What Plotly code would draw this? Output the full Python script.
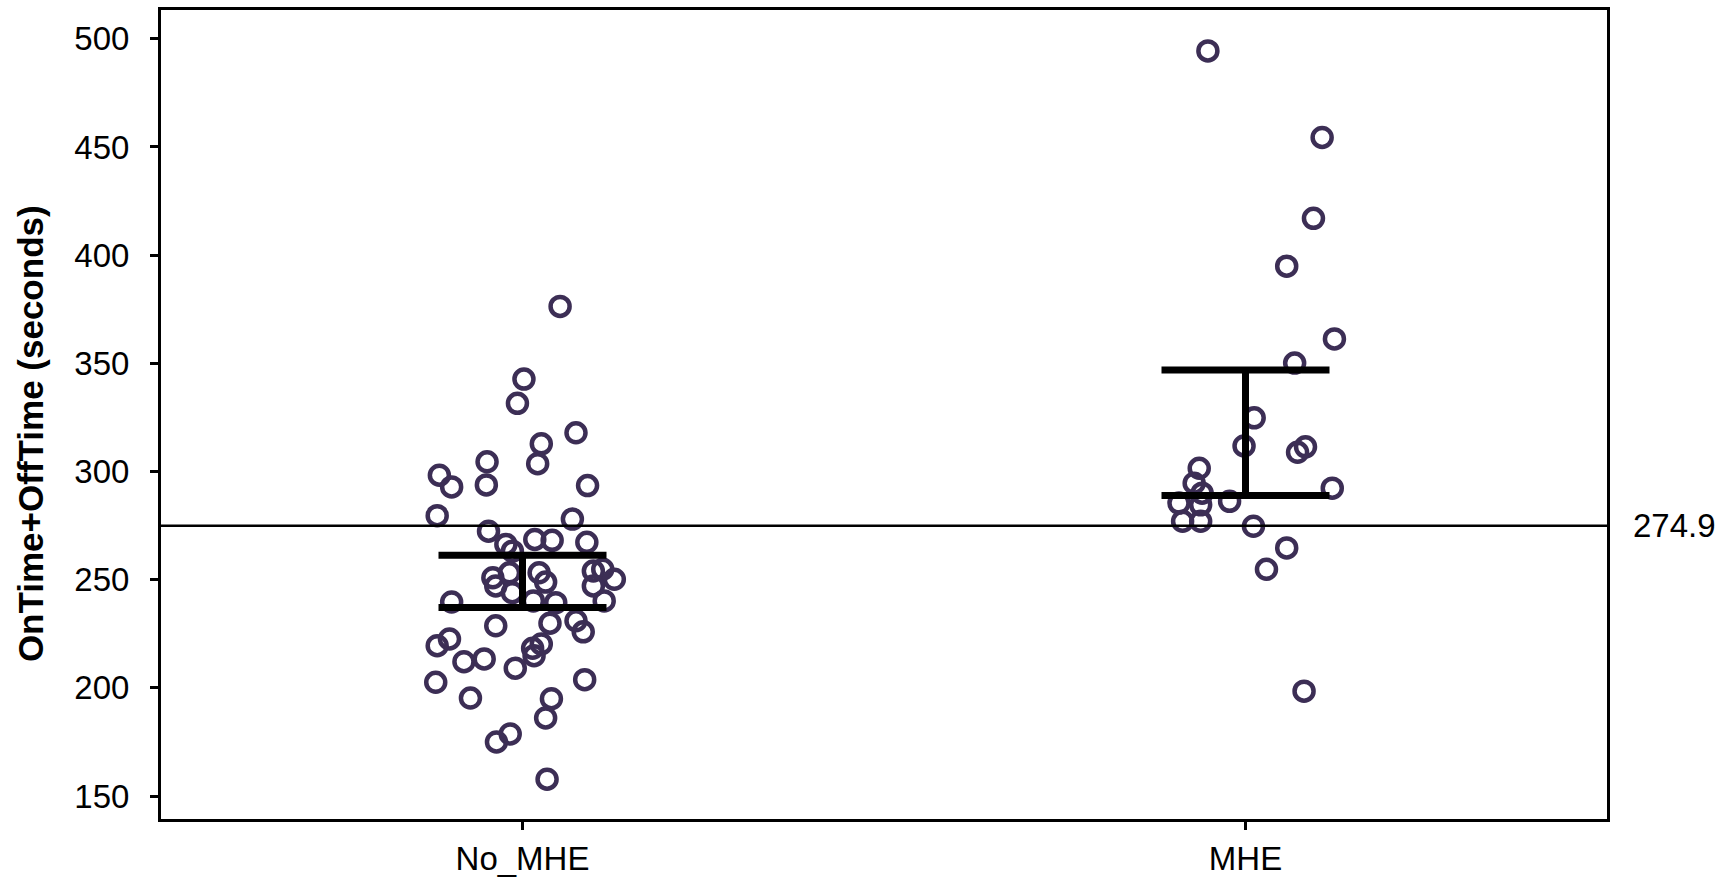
import plotly.graph_objects as go

# ---------------- data ----------------
categories = ["No_MHE", "MHE"]

# No_MHE group: horizontal jitter (category units) and values (seconds)
no_mhe_jitter = [0.052, 0.002, -0.007, 0.074, 0.026, 0.021, -0.049, -0.115, -0.098, -0.050,
                 0.090, -0.118, 0.069, -0.047, -0.023, 0.017, 0.041, 0.089, -0.014, -0.041,
                 -0.037, -0.018, -0.014, 0.023, 0.032, 0.098, 0.111, 0.127, 0.098, 0.113,
                 0.015, 0.046, -0.098, -0.037, 0.038, 0.074, 0.084, -0.101, -0.118, 0.026,
                 0.014, 0.016, -0.081, -0.053, -0.010, -0.120, 0.086, -0.072, 0.040, 0.032,
                 -0.017, -0.036, 0.034]
no_mhe_values = [376.3, 342.7, 331.5, 317.9, 312.8, 303.6, 304.5, 298.3, 292.9, 293.8,
                 293.5, 279.6, 278.0, 272.4, 266.3, 268.6, 268.2, 267.3, 263.2, 250.9,
                 247.1, 253.2, 244.0, 253.2, 248.9, 254.0, 254.8, 250.2, 247.1, 240.2,
                 240.2, 239.4, 239.7, 228.7, 229.9, 231.0, 225.9, 222.6, 219.5, 220.3,
                 218.3, 214.9, 212.1, 213.4, 209.1, 202.6, 203.8, 195.3, 195.0, 186.1,
                 178.7, 175.0, 157.8]

# MHE group
mhe_jitter = [-0.052, 0.106, 0.094, 0.057, 0.123, 0.068, 0.012, -0.002, 0.083, 0.072,
              -0.064, -0.071, -0.060, 0.120, -0.022, -0.092, -0.062, -0.087, -0.062, 0.011,
              0.057, 0.029, 0.081]
mhe_values = [494.4, 454.4, 417.0, 394.9, 361.3, 350.1, 324.8, 311.8, 311.4, 308.9,
              301.5, 294.6, 290.0, 292.3, 286.2, 285.4, 284.6, 277.0, 277.0, 274.7,
              264.7, 254.8, 198.5]

# confidence interval bars per group
ci_low = [237.1, 288.9]
ci_high = [261.3, 346.9]

grand_mean = 274.9
grand_mean_label = "274.9"

y_ticks = [150, 200, 250, 300, 350, 400, 450, 500]

# ---------------- figure ----------------
FONT = "Liberation Sans, Arial, Helvetica, sans-serif"
POINT_COLOR = "#3c2e55"

fig = go.Figure()

fig.add_trace(go.Scatter(
    x=[0 + j for j in no_mhe_jitter], y=no_mhe_values,
    mode="markers",
    marker=dict(symbol="circle-open", size=19, color=POINT_COLOR,
                line=dict(width=4.5, color=POINT_COLOR)),
    showlegend=False, hoverinfo="y",
))
fig.add_trace(go.Scatter(
    x=[1 + j for j in mhe_jitter], y=mhe_values,
    mode="markers",
    marker=dict(symbol="circle-open", size=19, color=POINT_COLOR,
                line=dict(width=4.5, color=POINT_COLOR)),
    showlegend=False, hoverinfo="y",
))

centers = [(lo + hi) / 2 for lo, hi in zip(ci_low, ci_high)]
fig.add_trace(go.Scatter(
    x=list(range(len(categories))), y=centers,
    mode="markers",
    marker=dict(size=1, color="rgba(0,0,0,0)"),
    error_y=dict(type="data", symmetric=False,
                 array=[hi - c for hi, c in zip(ci_high, centers)],
                 arrayminus=[c - lo for lo, c in zip(ci_low, centers)],
                 color="black", thickness=7, width=84),
    showlegend=False, hoverinfo="skip",
))

fig.add_hline(y=grand_mean, line=dict(color="black", width=2.5))

fig.add_annotation(
    x=1, xref="paper", xanchor="left", xshift=24,
    y=grand_mean, yref="y", yanchor="middle",
    text=grand_mean_label, showarrow=False,
    font=dict(family=FONT, size=33, color="black"),
)

fig.add_annotation(
    x=-0.0906, xref="paper", xanchor="center",
    y=0.477, yref="paper", yanchor="middle",
    text="<b>OnTime+OffTime (seconds)</b>", textangle=-90, showarrow=False,
    font=dict(family=FONT, size=35, color="black"),
)

fig.update_layout(
    width=1735, height=879,
    margin=dict(l=161, r=128, t=10, b=60),
    paper_bgcolor="white", plot_bgcolor="white",
    font=dict(family=FONT, size=33, color="black"),
    showlegend=False,
)
fig.update_xaxes(
    range=[-0.5, 1.5], tickvals=list(range(len(categories))), ticktext=categories,
    showgrid=False, zeroline=False, automargin=False,
    showline=True, linecolor="black", linewidth=3, mirror=True,
    ticks="outside", ticklen=8, tickwidth=3, tickcolor="black",
    tickfont=dict(family=FONT, size=33, color="black"),
)
fig.update_yaxes(
    range=[139.4, 513.3], tickvals=y_ticks,
    showgrid=False, zeroline=False, automargin=False,
    showline=True, linecolor="black", linewidth=3, mirror=True,
    ticks="outside", ticklen=8, tickwidth=3, tickcolor="black",
    tickfont=dict(family=FONT, size=33, color="black"),
    ticklabelstandoff=14,
)

fig.write_html("out.html", config={"displayModeBar": False},
               post_script="document.body.style.margin='0';document.body.style.overflow='hidden';")
